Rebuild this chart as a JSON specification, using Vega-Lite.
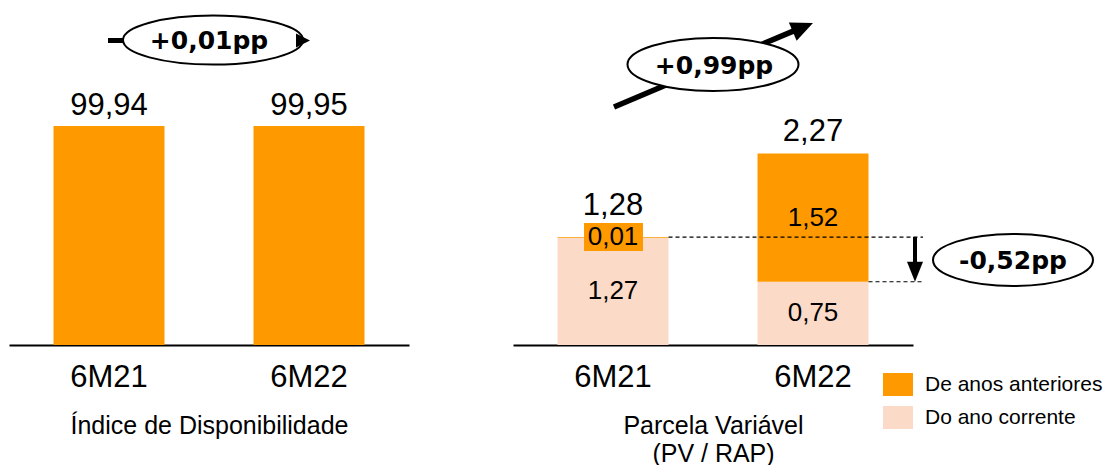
{
  "$schema": "https://vega.github.io/schema/vega-lite/v6.json",
  "padding": {"left": 9, "top": 0, "right": 0, "bottom": 0},
  "autosize": {"type": "pad"},
  "background": "white",
  "spacing": 104,
  "config": {
    "view": {"stroke": null},
    "font": "Liberation Sans",
    "axis": {"grid": false}
  },
  "datasets": {
    "disp": [
      {"period": "6M21", "value": 99.94, "label": "99,94"},
      {"period": "6M22", "value": 99.95, "label": "99,95"}
    ],
    "pv": [
      {"period": "6M21", "cat": "Do ano corrente", "value": 1.27, "label": "1,27"},
      {"period": "6M21", "cat": "De anos anteriores", "value": 0.01, "label": "0,01"},
      {"period": "6M22", "cat": "Do ano corrente", "value": 0.75, "label": "0,75"},
      {"period": "6M22", "cat": "De anos anteriores", "value": 1.52, "label": "1,52"}
    ],
    "pvtot": [
      {"period": "6M21", "total": 1.28, "label": "1,28"},
      {"period": "6M22", "total": 2.27, "label": "2,27"}
    ],
    "one": [{"k": 1}]
  },
  "hconcat": [
    {
      "width": 400,
      "height": 345,
      "encoding": {
        "x": {"field": "period", "type": "nominal", "sort": null,
          "scale": {"domain": ["6M21", "6M22"], "paddingInner": 0.445, "paddingOuter": 0.2225},
          "axis": {"title": "Índice de Disponibilidade", "titleFontSize": 25, "titleFontWeight": "normal", "titleColor": "black", "titleFont": "Liberation Sans", "titlePadding": 21,
            "labelFontSize": 31, "labelColor": "black", "labelFont": "Liberation Sans", "labelPadding": 17, "labelAngle": 0,
            "ticks": false, "tickSize": 0, "domainColor": "black", "domainWidth": 2}}
      },
      "layer": [
        {
          "data": {"name": "disp"},
          "mark": {"type": "bar", "color": "#FF9900"},
          "encoding": {
            "y": {"field": "value", "type": "quantitative", "scale": {"domain": [0, 157.5], "nice": false}, "axis": null}
          }
        },
        {
          "data": {"name": "disp"},
          "mark": {"type": "text", "fontSize": 31, "dy": -11, "baseline": "alphabetic", "color": "black", "font": "Liberation Sans"},
          "encoding": {
            "y": {"field": "value", "type": "quantitative"},
            "text": {"field": "label"}
          }
        },
        {
          "data": {"name": "one"},
          "mark": {"type": "rule", "color": "black", "strokeWidth": 5},
          "encoding": {
            "x": {"datum": "6M21", "type": "nominal", "bandPosition": 0.491},
            "x2": {"datum": "6M21", "bandPosition": 2.21},
            "y": {"datum": 139.0, "type": "quantitative"}
          }
        },
        {
          "data": {"name": "one"},
          "mark": {"type": "point", "shape": "M-1,0 A1,0.272 0 1,0 1,0 A1,0.272 0 1,0 -1,0 Z", "size": 32400, "filled": true, "fill": "white", "stroke": "black", "strokeWidth": 2, "opacity": 1},
          "encoding": {
            "x": {"datum": "6M21", "type": "nominal", "bandPosition": 1.437},
            "y": {"datum": 139.2, "type": "quantitative"}
          }
        },
        {
          "data": {"name": "one"},
          "mark": {"type": "point", "shape": "M0,0 L1,2 L-1,2 Z", "size": 196, "angle": 90, "filled": true, "color": "black", "opacity": 1},
          "encoding": {
            "x": {"datum": "6M21", "type": "nominal", "bandPosition": 2.311},
            "y": {"datum": 139.0, "type": "quantitative"}
          }
        },
        {
          "data": {"name": "one"},
          "mark": {"type": "text", "text": "+0,01pp", "font": "DejaVu Sans", "fontWeight": "bold", "fontSize": 25, "baseline": "middle", "align": "center", "color": "black"},
          "encoding": {
            "x": {"datum": "6M21", "type": "nominal", "bandPosition": 1.401},
            "y": {"datum": 138.6, "type": "quantitative"}
          }
        }
      ]
    },
    {
      "width": 400,
      "height": 345,
      "encoding": {
        "x": {"field": "period", "type": "nominal", "sort": null,
          "scale": {"domain": ["6M21", "6M22"], "paddingInner": 0.445, "paddingOuter": 0.2225},
          "axis": {"title": ["Parcela Variável", "(PV / RAP)"], "titleFontSize": 25, "titleFontWeight": "normal", "titleColor": "black", "titleFont": "Liberation Sans", "titlePadding": 21, "titleLineHeight": 28,
            "labelFontSize": 31, "labelColor": "black", "labelFont": "Liberation Sans", "labelPadding": 17, "labelAngle": 0,
            "ticks": false, "tickSize": 0, "domainColor": "black", "domainWidth": 2}}
      },
      "layer": [
        {
          "data": {"name": "pv"},
          "transform": [
            {"stack": "value", "groupby": ["period"], "sort": [{"field": "cat", "order": "descending"}], "as": ["v0", "v1"]}
          ],
          "mark": {"type": "bar"},
          "encoding": {
            "y": {"field": "v1", "type": "quantitative", "scale": {"domain": [0, 4.09], "nice": false}, "axis": null},
            "y2": {"field": "v0"},
            "color": {"field": "cat", "type": "nominal",
              "scale": {"domain": ["De anos anteriores", "Do ano corrente"], "range": ["#FF9900", "#FBDBC7"]},
              "legend": {"orient": "none", "legendX": 874, "legendY": 369.5, "title": null,
                "symbolType": "M-1,-0.767 H1 V0.767 H-1 Z", "symbolSize": 900, "symbolStrokeWidth": 0, "symbolOpacity": 1,
                "labelFontSize": 21, "labelFont": "Liberation Sans", "labelColor": "black", "labelOffset": 12, "labelLimit": 400, "rowPadding": 6, "padding": 0}}
          }
        },
        {
          "data": {"name": "one"},
          "mark": {"type": "point", "shape": "M-1,-0.475 H1 V0.475 H-1 Z", "size": 3481, "filled": true, "color": "#FF9900", "opacity": 1},
          "encoding": {
            "x": {"datum": "6M21", "type": "nominal", "bandPosition": 0.5045},
            "y": {"datum": 1.28, "type": "quantitative"}
          }
        },
        {
          "data": {"name": "pv"},
          "transform": [
            {"stack": "value", "groupby": ["period"], "sort": [{"field": "cat", "order": "descending"}], "as": ["v0", "v1"]},
            {"fold": ["v0", "v1"], "as": ["k", "v"]}
          ],
          "mark": {"type": "text", "fontSize": 26, "baseline": "middle", "color": "black", "font": "Liberation Sans"},
          "encoding": {
            "y": {"aggregate": "mean", "field": "v", "type": "quantitative"},
            "text": {"field": "label"}
          }
        },
        {
          "data": {"name": "pvtot"},
          "transform": [{"filter": "datum.period === '6M21'"}],
          "mark": {"type": "text", "fontSize": 31, "dy": -22, "baseline": "alphabetic", "color": "black", "font": "Liberation Sans"},
          "encoding": {
            "y": {"field": "total", "type": "quantitative"},
            "text": {"field": "label"}
          }
        },
        {
          "data": {"name": "pvtot"},
          "transform": [{"filter": "datum.period === '6M22'"}],
          "mark": {"type": "text", "fontSize": 31, "dy": -13, "baseline": "alphabetic", "color": "black", "font": "Liberation Sans"},
          "encoding": {
            "y": {"field": "total", "type": "quantitative"},
            "text": {"field": "label"}
          }
        },
        {
          "data": {"name": "one"},
          "mark": {"type": "rule", "color": "black", "strokeWidth": 1.2, "strokeDash": [4, 3]},
          "encoding": {
            "x": {"datum": "6M21", "type": "nominal", "bandPosition": 1.0},
            "x2": {"datum": "6M21", "bandPosition": 3.293},
            "y": {"datum": 1.28, "type": "quantitative"}
          }
        },
        {
          "data": {"name": "one"},
          "mark": {"type": "rule", "color": "black", "strokeWidth": 1.2, "strokeDash": [4, 3]},
          "encoding": {
            "x": {"datum": "6M22", "type": "nominal", "bandPosition": 1.0},
            "x2": {"datum": "6M21", "bandPosition": 3.293},
            "y": {"datum": 0.75, "type": "quantitative"}
          }
        },
        {
          "data": {"name": "one"},
          "mark": {"type": "rule", "color": "black", "strokeWidth": 4},
          "encoding": {
            "x": {"datum": "6M21", "type": "nominal", "bandPosition": 3.2207},
            "y": {"datum": 1.28, "type": "quantitative"},
            "y2": {"datum": 0.95}
          }
        },
        {
          "data": {"name": "one"},
          "mark": {"type": "point", "shape": "M0,0 L0.8,2 L-0.8,2 Z", "size": 400, "angle": 180, "filled": true, "color": "black", "opacity": 1},
          "encoding": {
            "x": {"datum": "6M21", "type": "nominal", "bandPosition": 3.2207},
            "y": {"datum": 0.75, "type": "quantitative"}
          }
        },
        {
          "data": {"name": "one"},
          "mark": {"type": "rule", "color": "black", "strokeWidth": 5.5},
          "encoding": {
            "x": {"datum": "6M21", "type": "nominal", "bandPosition": 0.509},
            "x2": {"datum": "6M21", "bandPosition": 2.1396},
            "y": {"datum": 2.822, "type": "quantitative"},
            "y2": {"datum": 3.73}
          }
        },
        {
          "data": {"name": "one"},
          "mark": {"type": "point", "shape": "M-1,0 A1,0.31 0 1,0 1,0 A1,0.31 0 1,0 -1,0 Z", "size": 29241, "filled": true, "fill": "white", "stroke": "black", "strokeWidth": 2, "opacity": 1},
          "encoding": {
            "x": {"datum": "6M21", "type": "nominal", "bandPosition": 1.4009},
            "y": {"datum": 3.325, "type": "quantitative"}
          }
        },
        {
          "data": {"name": "one"},
          "mark": {"type": "point", "shape": "M0,0 L0.9,2 L-0.9,2 Z", "size": 484, "angle": 67, "filled": true, "color": "black", "opacity": 1},
          "encoding": {
            "x": {"datum": "6M21", "type": "nominal", "bandPosition": 2.3018},
            "y": {"datum": 3.817, "type": "quantitative"}
          }
        },
        {
          "data": {"name": "one"},
          "mark": {"type": "text", "text": "+0,99pp", "font": "DejaVu Sans", "fontWeight": "bold", "fontSize": 25, "baseline": "middle", "align": "center", "color": "black"},
          "encoding": {
            "x": {"datum": "6M21", "type": "nominal", "bandPosition": 1.41},
            "y": {"datum": 3.308, "type": "quantitative"}
          }
        },
        {
          "data": {"name": "one"},
          "mark": {"type": "point", "shape": "M-1,0 A1,0.325 0 1,0 1,0 A1,0.325 0 1,0 -1,0 Z", "size": 25600, "filled": true, "fill": "white", "stroke": "black", "strokeWidth": 2, "opacity": 1},
          "encoding": {
            "x": {"datum": "6M21", "type": "nominal", "bandPosition": 4.1036},
            "y": {"datum": 1.008, "type": "quantitative"}
          }
        },
        {
          "data": {"name": "one"},
          "mark": {"type": "text", "text": "-0,52pp", "font": "DejaVu Sans", "fontWeight": "bold", "fontSize": 25, "baseline": "middle", "align": "center", "color": "black"},
          "encoding": {
            "x": {"datum": "6M21", "type": "nominal", "bandPosition": 4.1036},
            "y": {"datum": 0.99, "type": "quantitative"}
          }
        }
      ]
    }
  ]
}
